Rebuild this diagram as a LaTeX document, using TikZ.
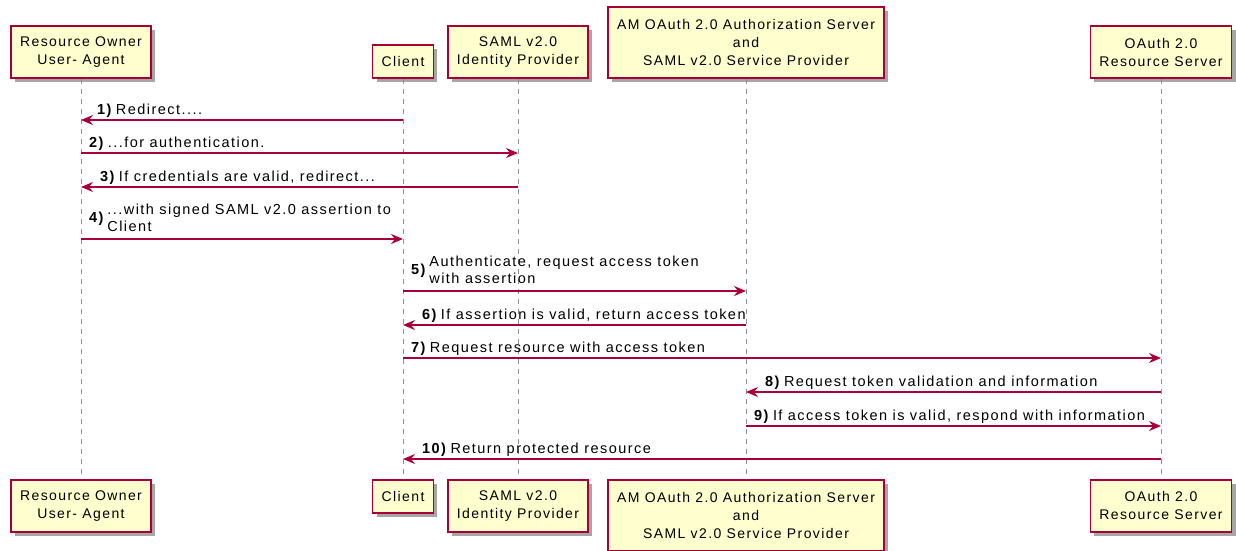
\documentclass[tikz,border=0pt]{standalone}
\usepackage{fontspec}
\setmainfont[LetterSpace=10]{Liberation Sans}
\usetikzlibrary{arrows.meta, shadows}
\definecolor{umlRed}{HTML}{A80036}
\definecolor{umlFill}{HTML}{FEFECE}
\definecolor{lifeGray}{HTML}{909090}
\tikzstyle{participant} = [rectangle, text centered, align = center, draw = umlRed, fill = umlFill, line width = 1.7pt, inner xsep = 9pt, inner ysep = 0pt, font = \fontsize{14}{18}\selectfont, general shadow = {shadow xshift = 4pt, shadow yshift = -4pt, fill = black!35, draw = none}]
\tikzstyle{lifeline} = [draw = lifeGray, dash pattern = on 5pt off 5pt, line width = 1pt]
\tikzstyle{message} = [->, >={Stealth[length = 12pt, width = 10pt, inset = 4pt]}, draw = umlRed, line width = 1.5pt]
\tikzstyle{msglabel} = [anchor = base west, inner sep = 0pt, yshift = 6pt, font = \fontsize{14.5}{17}\selectfont]
\tikzstyle{msglabeltwo} = [anchor = south west, inner sep = 0pt, yshift = 2.5pt, font = \fontsize{14.5}{17}\selectfont]
\newcommand{\seqnum}[1]{\textbf{#1)}\hspace{3pt}}
\newcommand{\seqlabel}[2]{\textbf{#1)}\,\begin{tabular}[c]{@{}l@{}}#2\end{tabular}}

\begin{document}
\begin{tikzpicture}[x = 1pt, y = -1pt]
\useasboundingbox (0,0) rectangle (1236,550);

% participants, top and bottom
\node (roTop) [participant, minimum height = 52pt, anchor = south] at (81,79) {Resource Owner\\User- Agent};
\node (clientTop) [participant, minimum height = 33pt, anchor = south] at (403,79) {Client};
\node (samlTop) [participant, minimum height = 52pt, anchor = south] at (518,79) {SAML v2.0\\Identity Provider};
\node (amTop) [participant, minimum height = 71pt, anchor = south] at (746,79) {AM OAuth 2.0 Authorization Server\\and\\SAML v2.0 Service Provider};
\node (rsTop) [participant, minimum height = 52pt, anchor = south] at (1161,79) {OAuth 2.0\\Resource Server};

\node (roBot) [participant, minimum height = 52pt, anchor = north] at (81,479) {Resource Owner\\User- Agent};
\node (clientBot) [participant, minimum height = 33pt, anchor = north] at (403,479) {Client};
\node (samlBot) [participant, minimum height = 52pt, anchor = north] at (518,479) {SAML v2.0\\Identity Provider};
\node (amBot) [participant, minimum height = 71pt, anchor = north] at (746,479) {AM OAuth 2.0 Authorization Server\\and\\SAML v2.0 Service Provider};
\node (rsBot) [participant, minimum height = 52pt, anchor = north] at (1161,479) {OAuth 2.0\\Resource Server};

\draw [lifeline] (roTop.south) -- (roBot.north);
\draw [lifeline] (clientTop.south) -- (clientBot.north);
\draw [lifeline] (samlTop.south) -- (samlBot.north);
\draw [lifeline] (amTop.south) -- (amBot.north);
\draw [lifeline] (rsTop.south) -- (rsBot.north);

% messages
\coordinate (m1) at (0,120);
\coordinate (m2) at (0,153);
\coordinate (m3) at (0,187);
\coordinate (m4) at (0,239);
\coordinate (m5) at (0,291);
\coordinate (m6) at (0,325);
\coordinate (m7) at (0,358);
\coordinate (m8) at (0,392);
\coordinate (m9) at (0,426);
\coordinate (m10) at (0,459);

\draw [message] (clientTop |- m1) -- (roTop |- m1);
\node (l1) [msglabel, xshift = 16pt] at (roTop |- m1) {\seqnum{1}Redirect....};
\draw [message] (roTop |- m2) -- (samlTop |- m2);
\node (l2) [msglabel, xshift = 8pt] at (roTop |- m2) {\seqnum{2}...for authentication.};
\draw [message] (samlTop |- m3) -- (roTop |- m3);
\node (l3) [msglabel, xshift = 19pt] at (roTop |- m3) {\seqnum{3}If credentials are valid, redirect...};
\draw [message] (roTop |- m4) -- (clientTop |- m4);
\node (l4) [msglabeltwo, xshift = 8pt] at (roTop |- m4) {\seqlabel{4}{...with signed SAML v2.0 assertion to\\Client}};
\draw [message] (clientTop |- m5) -- (amTop |- m5);
\node (l5) [msglabeltwo, xshift = 8pt] at (clientTop |- m5) {\seqlabel{5}{Authenticate, request access token\\with assertion}};
\draw [message] (amTop |- m6) -- (clientTop |- m6);
\node (l6) [msglabel, xshift = 19pt] at (clientTop |- m6) {\seqnum{6}If assertion is valid, return access token};
\draw [message] (clientTop |- m7) -- (rsTop |- m7);
\node (l7) [msglabel, xshift = 8pt] at (clientTop |- m7) {\seqnum{7}Request resource with access token};
\draw [message] (rsTop |- m8) -- (amTop |- m8);
\node (l8) [msglabel, xshift = 19pt] at (amTop |- m8) {\seqnum{8}Request token validation and information};
\draw [message] (amTop |- m9) -- (rsTop |- m9);
\node (l9) [msglabel, xshift = 8pt] at (amTop |- m9) {\seqnum{9}If access token is valid, respond with information};
\draw [message] (rsTop |- m10) -- (clientTop |- m10);
\node (l10) [msglabel, xshift = 19pt] at (clientTop |- m10) {\seqnum{10}Return protected resource};
\end{tikzpicture}
\end{document}
